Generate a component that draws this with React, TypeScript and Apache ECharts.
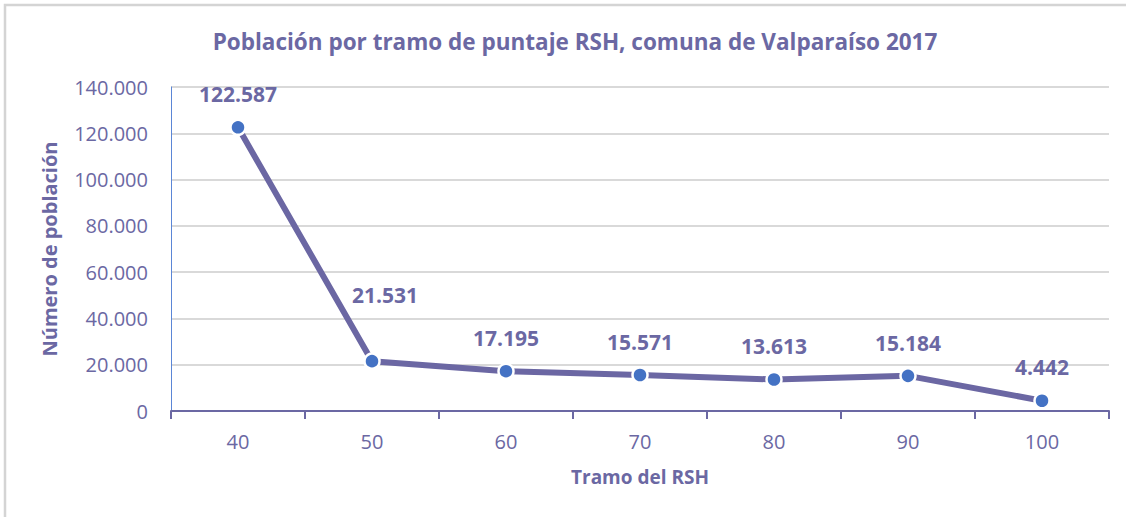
import React, { useEffect, useRef } from "react";
import * as echarts from "echarts";

const categories = ["40", "50", "60", "70", "80", "90", "100"];
const poblacion = [122587, 21531, 17195, 15571, 13613, 15184, 4442];
const yTicks = [0, 20000, 40000, 60000, 80000, 100000, 120000, 140000];

const TEXT = "#6B68A3";
const FONT = "'Open Sans', 'Noto Sans', sans-serif";

const fmt = (v: number) => String(v).replace(/\B(?=(\d{3})+(?!\d))/g, ".");

export default function App() {
  const ref = useRef<HTMLDivElement>(null);
  useEffect(() => {
    const chart = echarts.init(ref.current!, null, { renderer: "svg" });
    chart.setOption({
      animation: false,
      backgroundColor: "#ffffff",
      graphic: [
        {
          type: "rect",
          shape: { x: 5, y: 5, width: 1140, height: 540 },
          style: { fill: "none", stroke: "#d4d4d4", lineWidth: 2.5 },
          z: -10,
        },
      ],
      title: {
        text: "Población por tramo de puntaje RSH, comuna de Valparaíso 2017",
        left: 570,
        textAlign: "center",
        top: 25,
        textStyle: { color: TEXT, fontFamily: FONT, fontWeight: "bold", fontSize: 22.5 },
      },
      grid: { left: 171, right: 17, top: 87, bottom: 106 },
      xAxis: {
        type: "category",
        data: categories,
        boundaryGap: true,
        name: "Tramo del RSH",
        nameLocation: "middle",
        nameGap: 56,
        nameTextStyle: { color: TEXT, fontFamily: FONT, fontWeight: "bold", fontSize: 19 },
        axisLine: { lineStyle: { color: TEXT, width: 2 } },
        axisTick: { show: true, length: 8, lineStyle: { color: TEXT, width: 2 } },
        axisLabel: { color: TEXT, fontFamily: FONT, fontSize: 20, margin: 20 },
      },
      yAxis: {
        type: "value",
        min: 0,
        max: 140000,
        interval: 20000,
        name: "Número de población",
        nameLocation: "middle",
        nameGap: 112,
        nameTextStyle: { color: TEXT, fontFamily: FONT, fontWeight: "bold", fontSize: 20 },
        axisLine: { show: true, lineStyle: { color: "#5B86D6", width: 1 } },
        axisTick: { show: false },
        splitLine: { lineStyle: { color: "#d9d9d9", width: 2 } },
        axisLabel: {
          color: TEXT,
          fontFamily: FONT,
          fontSize: 20,
          margin: 23,
          formatter: (v: number) => (yTicks.includes(v) ? fmt(v) : ""),
        },
      },
      series: [
        {
          type: "line",
          data: poblacion.map((v, i) =>
            i === 1 ? { value: v, label: { offset: [13, -33] } } : v
          ),
          symbol: "circle",
          symbolSize: 15,
          lineStyle: { color: "#6B67A3", width: 6 },
          itemStyle: { color: "#4472C4", borderColor: "#ffffff", borderWidth: 2.5 },
          label: {
            show: true,
            position: "top",
            distance: 14,
            color: TEXT,
            fontFamily: FONT,
            fontWeight: "bold",
            fontSize: 21,
            formatter: (p: any) => fmt(p.value),
          },
        },
      ],
    });
    return () => chart.dispose();
  }, []);
  return (
    <div
      ref={ref}
      style={{ position: "absolute", left: 0, top: 0, width: 1126, height: 517 }}
    />
  );
}
